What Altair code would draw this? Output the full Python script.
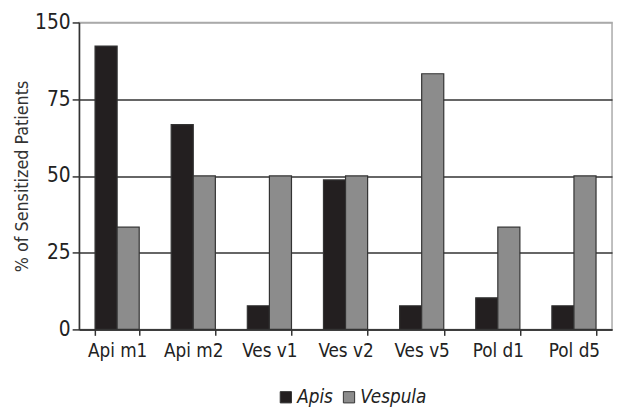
import altair as alt
import pandas as pd

allergens = ["Api m1", "Api m2", "Ves v1", "Ves v2", "Ves v5", "Pol d1", "Pol d5"]
apis = [92.3, 66.7, 7.7, 48.7, 7.7, 10.3, 7.7]
vespula = [33.3, 50.0, 50.0, 50.0, 83.3, 33.3, 50.0]
groups = ["Apis", "Vespula"]

rows = []
for a, p, v in zip(allergens, apis, vespula):
    rows.append({"allergen": a, "group": "Apis", "value": p})
    rows.append({"allergen": a, "group": "Vespula", "value": v})
df = pd.DataFrame(rows)

FONT = "DejaVu Sans Condensed, Liberation Sans, sans-serif"

chart = alt.Chart(df).mark_bar(stroke="#333333", strokeWidth=1.2).encode(
    x=alt.X("allergen:N", sort=allergens, title=None,
            scale=alt.Scale(paddingInner=0.42, paddingOuter=0.21),
            axis=alt.Axis(labelAngle=0, labelFontSize=19, labelFont=FONT, labelColor="#222",
                          tickBand="extent", tickColor="#333", tickSize=6, tickWidth=1.5,
                          domainColor="#333", domainWidth=1.5, labelPadding=6)),
    xOffset=alt.XOffset("group:N", sort=groups),
    y=alt.Y("value:Q", title="% of Sensitized Patients",
            scale=alt.Scale(domain=[0, 100], nice=False),
            axis=alt.Axis(values=[0, 25, 50, 75, 100],
                          labelExpr="datum.value == 100 ? '150' : datum.label",
                          labelFontSize=21, labelFont=FONT, labelColor="#222",
                          titleFontSize=18, titleFont=FONT, titleFontWeight="normal", titleColor="#333",
                          titlePadding=3,
                          tickColor="#333", tickSize=7, tickWidth=1.5,
                          domainColor="#333", domainWidth=1.5,
                          gridColor={"condition": {"test": "datum.value == 100", "value": "#aaaaaa"}, "value": "#333333"},
                          gridWidth=1.5, labelPadding=2)),
    color=alt.Color("group:N", sort=groups,
                    scale=alt.Scale(domain=groups, range=["#231f20", "#8c8c8c"]),
                    legend=alt.Legend(title=None, orient="none", legendX=200, legendY=370,
                                      direction="horizontal",
                                      symbolType="square", symbolSize=130, symbolStrokeColor="#333",
                                      symbolStrokeWidth=1,
                                      labelFont=FONT, labelFontSize=19, labelFontStyle="italic",
                                      labelColor="#222", columnPadding=6, labelOffset=2)),
).properties(
    width=540, height=311,
    autosize=alt.AutoSizeParams(type="none"),
    padding={"left": 72, "top": 12, "right": 2, "bottom": 80},
).configure_view(stroke="#aaaaaa", strokeWidth=1.5)

chart.save("out.html", embed_options={"renderer": "svg", "actions": False})
